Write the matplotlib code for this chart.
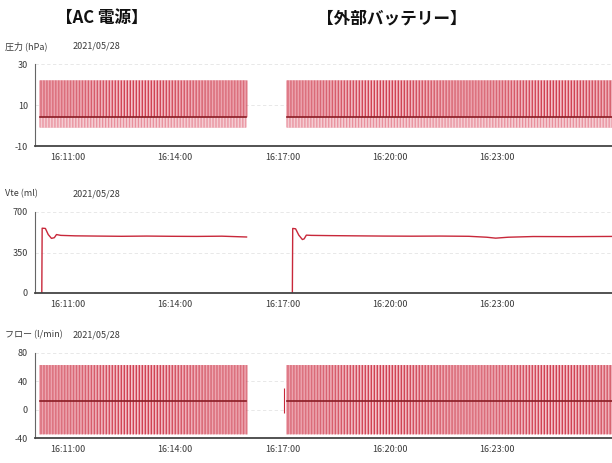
import numpy as np
import matplotlib
matplotlib.use('Agg')
from matplotlib import pyplot as plt

plt.rcParams['font.family'] = ['Noto Sans CJK JP', 'DejaVu Sans']
plt.rcParams['axes.unicode_minus'] = False

# time in minutes after 16:00
date_label = '2021/05/28'
xticks = [11, 14, 17, 20, 23]
xticklabels = ['16:11:00', '16:14:00', '16:17:00', '16:20:00', '16:23:00']
xlim = (10.08, 26.2)

# two recording segments: AC power, then external battery
seg_start = [10.22, 17.12]
seg_end = [15.99, 26.3]
resp_rate = 12  # breaths per minute

# pressure (hPa)
p_peak, p_base, p_low = 22, 4, -1
p_ticks = [-10, 10, 30]

# flow (l/min)
f_peak, f_base, f_low = 63, 12, -35
f_ticks = [-40, 0, 40, 80]

# Vte (ml)
vte_t1 = [10.27, 10.28, 10.37, 10.45, 10.54, 10.62, 10.68, 10.8, 11.2, 11.8, 12.5, 13.2, 13.9, 14.6, 15.3, 15.99]
vte_v1 = [0, 560, 558, 505, 472, 478, 505, 498, 494, 492, 490, 492, 490, 489, 491, 484]
vte_t2 = [17.27, 17.28, 17.36, 17.45, 17.55, 17.6, 17.66, 17.8, 18.3, 19.0, 19.8, 20.6, 21.4, 22.2, 22.7, 22.95, 23.3, 24.0, 25.0, 26.3]
vte_v2 = [0, 558, 555, 500, 462, 468, 500, 498, 496, 494, 492, 491, 492, 490, 482, 474, 482, 488, 487, 489]
vte_ticks = [0, 350, 700]

red = '#c8283a'
pink = '#e98f9c'
dark = '#8a1d25'
txt = '#3a3a3a'

fig = plt.figure(figsize=(6.12, 4.63), dpi=100)

fig.text(102/612, 1-18/463, '【AC 電源】', ha='center', va='center', fontsize=12, fontweight='bold', color='#111')
fig.text(392/612, 1-18/463, '【外部バッテリー】', ha='center', va='center', fontsize=12, fontweight='bold', color='#111')

def make_ax(top, bottom, label, ylim, yticks):
    ax = fig.add_axes([35/612, 1-bottom/463, 1-35/612, (bottom-top)/463])
    ax.set_xlim(*xlim)
    ax.set_ylim(*ylim)
    ax.set_yticks(yticks)
    ax.set_xticks(xticks)
    ax.set_xticklabels(xticklabels)
    ax.tick_params(length=0, labelsize=6.5, colors=txt, pad=5)
    for s in ['top', 'right']:
        ax.spines[s].set_visible(False)
    ax.spines['left'].set_color('#666')
    ax.spines['left'].set_linewidth(0.8)
    ax.spines['bottom'].set_color('#444')
    ax.spines['bottom'].set_linewidth(1.3)
    for y in yticks[1:]:
        ax.axhline(y, color='#e4e4e4', lw=0.6, ls=(0, (4, 3)), zorder=0)
    fig.text(5/612, 1-(top-18)/463, label, fontsize=6.5, color=txt, va='center')
    fig.text(73/612, 1-(top-18)/463, date_label, fontsize=6.5, color=txt, va='center')
    return ax

def draw_breaths(ax, peak, base, low, dark_low):
    for t0, t1 in zip(seg_start, seg_end):
        bt = np.arange(t0, t1, 1/resp_rate)
        ax.fill_between([t0, bt[-1]], low, peak, color='#f4cdd3', lw=0, zorder=1)
        ax.vlines(bt, low, peak, color=pink, lw=0.9, zorder=2, snap=False)
        ax.vlines(bt + 0.03, dark_low, peak, color=red, lw=0.6, zorder=3, snap=False)
        ax.plot([t0, bt[-1]], [base, base], color=dark, lw=1.2, zorder=4)

ax1 = make_ax(64, 146, '圧力 (hPa)', (-10, 30), p_ticks)
draw_breaths(ax1, p_peak, p_base, p_low, p_base)

ax2 = make_ax(212, 293, 'Vte (ml)', (0, 700), vte_ticks)
ax2.plot(vte_t1, vte_v1, color=red, lw=1.0)
ax2.plot(vte_t2, vte_v2, color=red, lw=1.0)

ax3 = make_ax(353, 438, 'フロー (l/min)', (-40, 80), f_ticks)
draw_breaths(ax3, f_peak, f_base, f_low, f_low)
ax3.vlines([17.05], [-5], [30], color=red, lw=0.8)

fig.savefig('out.png', dpi=100)
